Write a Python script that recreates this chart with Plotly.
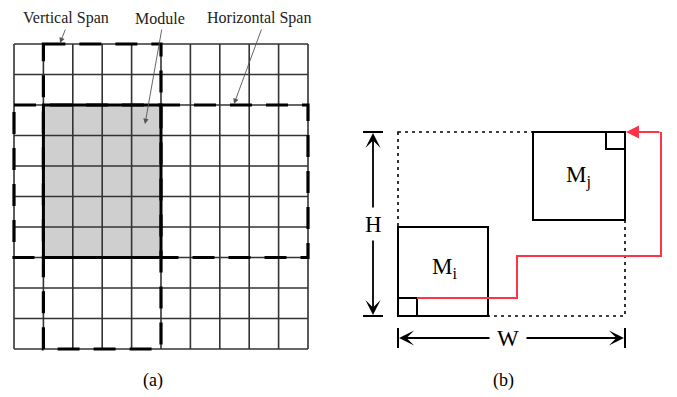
import plotly.graph_objects as go

W_PX, H_PX = 677, 397
PAGE_OFFSET = 8  # default body margin of the html page

# ---------- panel (a): grid ----------
grid_x_lines = [14, 43.4, 72.8, 102.2, 131.6, 161, 190.4, 219.8, 249.2, 278.6, 308]
grid_y_lines = [44, 74.5, 105, 135.5, 166, 196.5, 227, 257.5, 288, 318.5, 349]
module_cols = (1, 5)   # column index range of module
module_rows = (2, 7)   # row index range of module
vspan_cols = (1, 5)
vspan_rows = (0, 10)
hspan_cols = (0, 10)
hspan_rows = (2, 7)

labels_a = ["Vertical Span", "Module", "Horizontal Span"]
labels_a_pos = [(66, 18), (160, 18), (259, 18)]
labels_a_arrow_tail = [(66, 28), (162, 28), (262, 28)]
labels_a_arrow_head = [(60, 43), (145, 124), (234, 104)]

# ---------- panel (b) ----------
outer_box = (398, 132, 625, 316)
mi_box = (398, 227, 488, 316)
mi_pin = (398, 298, 417, 316)
mj_box = (533, 132, 625, 220)
mj_pin = (606, 132, 625, 149)
red_path_x = [417, 517, 517, 661, 661]
red_path_y = [298, 298, 256, 256, 132]
red_arrow_end = (626, 132)
mi_label = ("M<sub>i</sub>", 444, 268)
mj_label = ("M<sub>j</sub>", 578, 176)
h_dim = dict(x=373, y0=132, y1=316, tick_x0=363, tick_x1=383, label_y=224)
w_dim = dict(y=338, x0=398, x1=625, tick_y0=328, tick_y1=348, label_x=508)
captions = ["(a)", "(b)"]
captions_pos = [(153, 380), (503, 380)]

FONT = "Liberation Serif, Times New Roman, serif"
fig = go.Figure()

def rect(x0, y0, x1, y1, **kw):
    fig.add_shape(type="rect", x0=x0, y0=y0, x1=x1, y1=y1, xref="x", yref="y", **kw)

def line(x0, y0, x1, y1, **kw):
    fig.add_shape(type="line", x0=x0, y0=y0, x1=x1, y1=y1, xref="x", yref="y", **kw)

# module shading
rect(grid_x_lines[module_cols[0]], grid_y_lines[module_rows[0]],
     grid_x_lines[module_cols[1]], grid_y_lines[module_rows[1]],
     fillcolor="#cfcfcf", line=dict(width=0))
# grid lines
for gx in grid_x_lines:
    line(gx, grid_y_lines[0], gx, grid_y_lines[-1], line=dict(color="#333333", width=1.6))
for gy in grid_y_lines:
    line(grid_x_lines[0], gy, grid_x_lines[-1], gy, line=dict(color="#333333", width=1.6))
# spans (dashed)
DASH = "22px,14px"
rect(grid_x_lines[vspan_cols[0]], grid_y_lines[vspan_rows[0]],
     grid_x_lines[vspan_cols[1]], grid_y_lines[vspan_rows[1]],
     line=dict(color="black", width=3.2, dash=DASH))
rect(grid_x_lines[hspan_cols[0]], grid_y_lines[hspan_rows[0]],
     grid_x_lines[hspan_cols[1]], grid_y_lines[hspan_rows[1]],
     line=dict(color="black", width=3.2, dash=DASH))
# module border
rect(grid_x_lines[module_cols[0]], grid_y_lines[module_rows[0]],
     grid_x_lines[module_cols[1]], grid_y_lines[module_rows[1]],
     line=dict(color="black", width=3))

for txt, (tx, ty), (ax_, ay_), (hx, hy) in zip(labels_a, labels_a_pos, labels_a_arrow_tail, labels_a_arrow_head):
    fig.add_annotation(x=tx, y=ty, text=txt, showarrow=False, xref="x", yref="y",
                       font=dict(family=FONT, size=16, color="#222"))
    fig.add_annotation(x=hx, y=hy, ax=ax_, ay=ay_, axref="x", ayref="y", xref="x", yref="y",
                       text="", showarrow=True, arrowhead=2, arrowsize=1.2, arrowwidth=0.9,
                       arrowcolor="#555")

# panel (b): boxes below the red route trace
rect(*outer_box, layer="below", line=dict(color="black", width=1.6, dash="3px,4px"))
rect(*mi_box, layer="below", fillcolor="white", line=dict(color="black", width=2))
rect(*mi_pin, layer="below", line=dict(color="black", width=2))
rect(*mj_box, layer="below", fillcolor="white", line=dict(color="black", width=2))
rect(*mj_pin, layer="below", line=dict(color="black", width=2))

fig.add_trace(go.Scatter(x=red_path_x, y=red_path_y, mode="lines",
                         line=dict(color="#ff3347", width=2), hoverinfo="skip", showlegend=False))
fig.add_annotation(x=red_arrow_end[0], y=red_arrow_end[1], ax=red_path_x[-1], ay=red_path_y[-1],
                   axref="x", ayref="y", xref="x", yref="y", text="", showarrow=True,
                   arrowhead=2, arrowsize=1.3, arrowwidth=2, arrowcolor="#ff3347")

for txt, lx, ly in [mi_label, mj_label]:
    fig.add_annotation(x=lx, y=ly, text=txt, showarrow=False, xref="x", yref="y",
                       font=dict(family=FONT, size=23, color="black"))

# H dimension
line(h_dim["tick_x0"], h_dim["y0"], h_dim["tick_x1"], h_dim["y0"], line=dict(color="black", width=2))
line(h_dim["tick_x0"], h_dim["y1"], h_dim["tick_x1"], h_dim["y1"], line=dict(color="black", width=2))
fig.add_annotation(x=h_dim["x"], y=h_dim["y0"] + 1, ax=h_dim["x"], ay=h_dim["label_y"] - 15,
                   axref="x", ayref="y", xref="x", yref="y", text="", showarrow=True,
                   arrowhead=3, arrowsize=1.4, arrowwidth=1.8, arrowcolor="black")
fig.add_annotation(x=h_dim["x"], y=h_dim["y1"] - 1, ax=h_dim["x"], ay=h_dim["label_y"] + 15,
                   axref="x", ayref="y", xref="x", yref="y", text="", showarrow=True,
                   arrowhead=3, arrowsize=1.4, arrowwidth=1.8, arrowcolor="black")
fig.add_annotation(x=h_dim["x"], y=h_dim["label_y"], text="H", showarrow=False, xref="x", yref="y",
                   font=dict(family=FONT, size=23, color="black"))

# W dimension
line(w_dim["x0"], w_dim["tick_y0"], w_dim["x0"], w_dim["tick_y1"], line=dict(color="black", width=2))
line(w_dim["x1"], w_dim["tick_y0"], w_dim["x1"], w_dim["tick_y1"], line=dict(color="black", width=2))
fig.add_annotation(x=w_dim["x0"] + 1, y=w_dim["y"], ax=w_dim["label_x"] - 17, ay=w_dim["y"],
                   axref="x", ayref="y", xref="x", yref="y", text="", showarrow=True,
                   arrowhead=3, arrowsize=1.4, arrowwidth=1.8, arrowcolor="black")
fig.add_annotation(x=w_dim["x1"] - 1, y=w_dim["y"], ax=w_dim["label_x"] + 17, ay=w_dim["y"],
                   axref="x", ayref="y", xref="x", yref="y", text="", showarrow=True,
                   arrowhead=3, arrowsize=1.4, arrowwidth=1.8, arrowcolor="black")
fig.add_annotation(x=w_dim["label_x"], y=w_dim["y"], text="W", showarrow=False, xref="x", yref="y",
                   font=dict(family=FONT, size=23, color="black"))

for txt, (cx, cy) in zip(captions, captions_pos):
    fig.add_annotation(x=cx, y=cy, text=txt, showarrow=False, xref="x", yref="y",
                       font=dict(family=FONT, size=18, color="black"))

fig.update_layout(
    width=W_PX, height=H_PX, margin=dict(l=0, r=0, t=0, b=0),
    paper_bgcolor="white", plot_bgcolor="white", showlegend=False,
    xaxis=dict(range=[PAGE_OFFSET, W_PX + PAGE_OFFSET], visible=False, fixedrange=True),
    yaxis=dict(range=[H_PX + PAGE_OFFSET, PAGE_OFFSET], visible=False, fixedrange=True),
)
fig.write_html("out.html", config={"displayModeBar": False})
